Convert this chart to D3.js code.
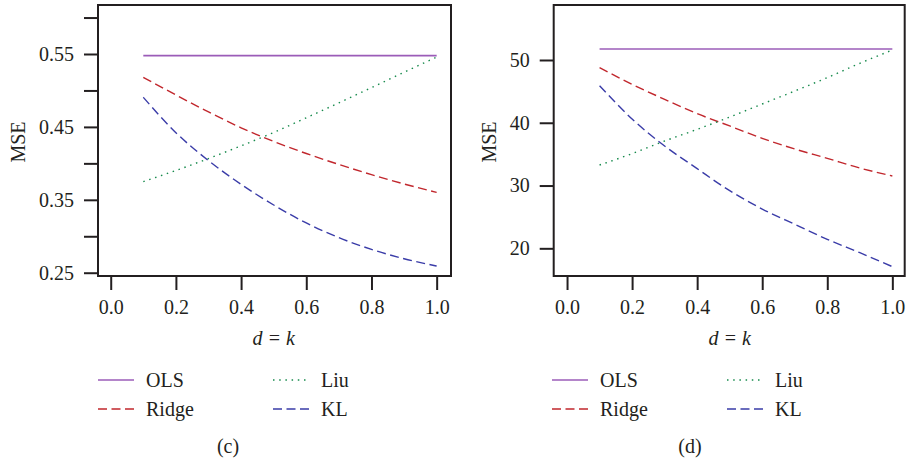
<!DOCTYPE html>
<html>
<head>
<meta charset="utf-8">
<script src="https://cdn.jsdelivr.net/npm/d3@7"></script>
<style>
  html, body { margin: 0; padding: 0; background: #ffffff; }
  svg { display: block; }
</style>
</head>
<body>
<svg id="chart" width="906" height="464"></svg>
<script>
// ---------------- data ----------------
const dValues = [0.1, 0.2, 0.3, 0.4, 0.5, 0.6, 0.7, 0.8, 0.9, 1.0];

// panel (c)
const olsC   = [0.5477, 0.5477, 0.5477, 0.5477, 0.5477, 0.5477, 0.5477, 0.5477, 0.5477, 0.5477];
const ridgeC = [0.5180, 0.4938, 0.4705, 0.4488, 0.4300, 0.4135, 0.3985, 0.3845, 0.3717, 0.3602];
const liuC   = [0.3749, 0.3902, 0.4066, 0.4240, 0.4424, 0.4625, 0.4830, 0.5038, 0.5250, 0.5458];
const klC    = [0.4906, 0.4421, 0.4037, 0.3712, 0.3429, 0.3182, 0.2981, 0.2820, 0.2692, 0.2592];

// panel (d)
const olsD   = [51.75, 51.75, 51.75, 51.75, 51.75, 51.75, 51.75, 51.75, 51.75, 51.75];
const ridgeD = [48.78, 46.12, 43.73, 41.45, 39.49, 37.52, 35.82, 34.33, 32.79, 31.52];
const liuD   = [33.27, 35.08, 37.10, 38.95, 40.92, 42.99, 45.06, 47.19, 49.47, 51.59];
const klD    = [45.91, 40.60, 36.30, 32.69, 29.18, 26.26, 23.82, 21.43, 19.30, 17.08];

const xTicks = [0.0, 0.2, 0.4, 0.6, 0.8, 1.0];
const xTickLabels = ["0.0", "0.2", "0.4", "0.6", "0.8", "1.0"];
const yTicksC = [0.25, 0.30, 0.35, 0.40, 0.45, 0.50, 0.55, 0.60];
const yTickLabelsC = ["0.25", "", "0.35", "", "0.45", "", "0.55", ""];
const yTicksD = [20, 30, 40, 50];
const yTickLabelsD = ["20", "30", "40", "50"];

const seriesNames = ["OLS", "Ridge", "Liu", "KL"];
const seriesColors = ["#9b5cb8", "#c1272d", "#168a4c", "#3a3ca8"];
const panelLabels = ["(c)", "(d)"];
const xTitle = "d = k";
const yTitle = "MSE";

// ---------------- drawing ----------------
const FONT = '"Liberation Serif"';
const svg = d3.select("#chart");
const dash = { OLS: null, Ridge: "9,4.5", Liu: "1.5,4.7", KL: "9,4.5" };
const ink = "#231f20";

function styleText(sel) {
  return sel.attr("font-family", "Liberation Serif").attr("font-size", 20)
    .style("font-family", FONT).style("font-size", "20px").style("fill", ink);
}

function drawPanel(cfg) {
  const g = svg.append("g");
  const x = d3.scaleLinear().domain(cfg.xDomain).range([cfg.left, cfg.right]);
  const y = d3.scaleLinear().domain(cfg.yDomain).range([cfg.bottom, cfg.top]);

  // y axis
  const yAxis = d3.axisLeft(y)
    .tickValues(cfg.yTicks)
    .tickFormat((d, i) => cfg.yLabels[i])
    .tickSize(14).tickPadding(10);
  const ya = g.append("g").attr("transform", `translate(${cfg.left},0)`).call(yAxis);
  ya.attr("font-family", "Liberation Serif").attr("font-size", 20);
  ya.select(".domain").remove();
  ya.selectAll(".tick line").attr("stroke", ink).attr("stroke-width", 2);
  styleText(ya.selectAll(".tick text"));

  // x axis
  const xAxis = d3.axisBottom(x)
    .tickValues(xTicks)
    .tickFormat((d, i) => xTickLabels[i])
    .tickSize(14).tickPadding(10);
  const xa = g.append("g").attr("transform", `translate(0,${cfg.bottom})`).call(xAxis);
  xa.attr("font-family", "Liberation Serif").attr("font-size", 20);
  xa.select(".domain").remove();
  xa.selectAll(".tick line").attr("stroke", ink).attr("stroke-width", 2);
  styleText(xa.selectAll(".tick text"));

  // series
  const line = d3.line()
    .x((d, i) => x(dValues[i]))
    .y(d => y(d))
    .curve(d3.curveMonotoneX);
  cfg.series.forEach((vals, k) => {
    const name = seriesNames[k];
    g.append("path")
      .attr("d", line(vals))
      .attr("fill", "none")
      .attr("stroke", seriesColors[k])
      .attr("stroke-width", name === "OLS" ? 1.6 : 1.4)
      .attr("stroke-dasharray", dash[name]);
  });

  // box
  g.append("rect")
    .attr("x", x(cfg.xDomain[0])).attr("y", y(cfg.yDomain[1]))
    .attr("width", x(cfg.xDomain[1]) - x(cfg.xDomain[0]))
    .attr("height", y(cfg.yDomain[0]) - y(cfg.yDomain[1]))
    .attr("fill", "none").attr("stroke", ink).attr("stroke-width", 2);

  // axis titles
  styleText(g.append("text")
    .attr("x", x(0.5)).attr("y", 345)
    .attr("text-anchor", "middle"))
    .style("font-style", "italic")
    .text(xTitle);

  styleText(g.append("text")
    .attr("transform", `translate(${cfg.yTitleX},142) rotate(-90)`)
    .attr("text-anchor", "middle"))
    .text(yTitle);

  // legend
  const lg = g.append("g").attr("transform", `translate(${cfg.legendX},0)`);
  const legendPos = [[0, 380], [0, 409], [175, 380], [175, 409]];
  seriesNames.forEach((name, k) => {
    const [lx, ly] = legendPos[k];
    lg.append("line")
      .attr("x1", lx).attr("x2", lx + 36)
      .attr("y1", ly).attr("y2", ly)
      .attr("stroke", seriesColors[k])
      .attr("stroke-width", name === "OLS" ? 1.6 : 1.4)
      .attr("stroke-dasharray", dash[name]);
    styleText(lg.append("text")
      .attr("x", lx + 48).attr("y", ly + 7))
      .text(name);
  });

  // panel label
  styleText(g.append("text")
    .attr("x", cfg.labelX).attr("y", 453)
    .attr("text-anchor", "middle"))
    .text(cfg.label);
}

drawPanel({
  left: 98, right: 451, top: 5, bottom: 276,
  xDomain: [-0.039, 1.044], yDomain: [0.2455, 0.6172],
  yTicks: yTicksC, yLabels: yTickLabelsC,
  series: [olsC, ridgeC, liuC, klC],
  yTitleX: 25, legendX: 98, labelX: 228, label: panelLabels[0]
});

drawPanel({
  left: 553.7, right: 904.7, top: 5, bottom: 276,
  xDomain: [-0.041, 1.038], yDomain: [15.59, 58.76],
  yTicks: yTicksD, yLabels: yTickLabelsD,
  series: [olsD, ridgeD, liuD, klD],
  yTitleX: 496, legendX: 552, labelX: 690, label: panelLabels[1]
});
</script>
</body>
</html>
